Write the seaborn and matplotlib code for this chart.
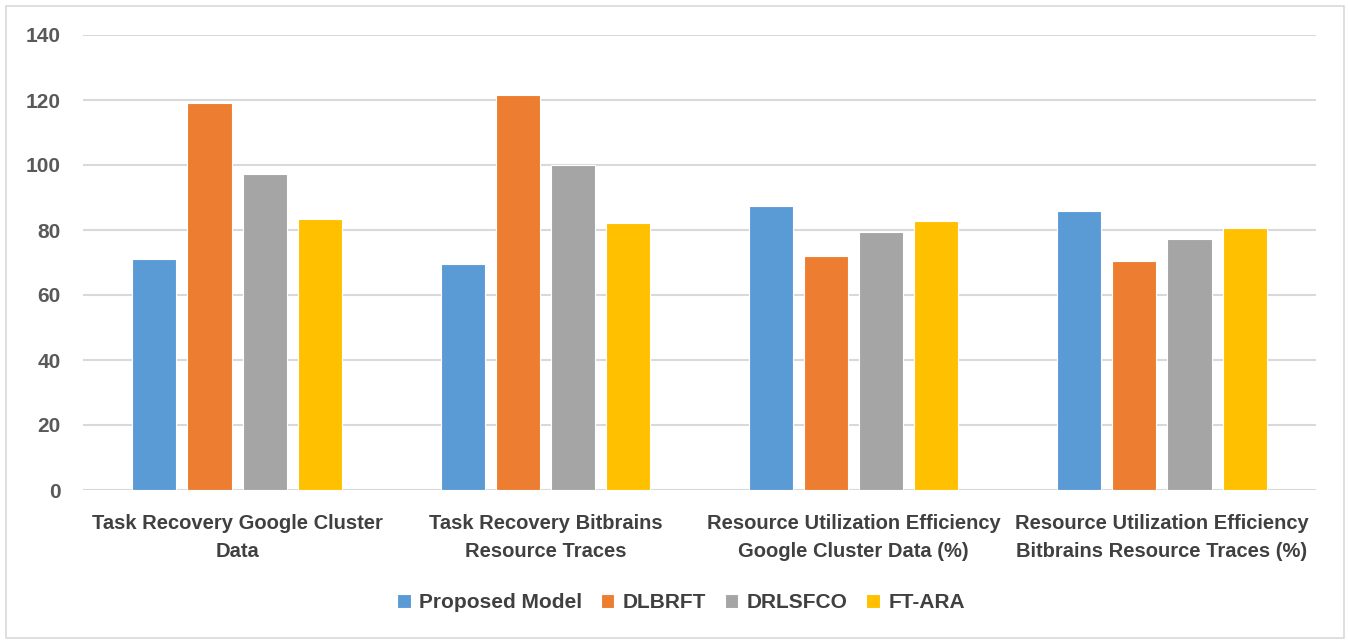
import matplotlib
matplotlib.use("Agg")
import matplotlib.pyplot as plt
import seaborn as sns
import pandas as pd
from matplotlib.patches import Rectangle

categories = [
    "Task Recovery Google Cluster\nData",
    "Task Recovery Bitbrains\nResource Traces",
    "Resource Utilization Efficiency\nGoogle Cluster Data (%)",
    "Resource Utilization Efficiency\nBitbrains Resource Traces (%)",
]
series_names = ["Proposed Model", "DLBRFT", "DRLSFCO", "FT-ARA"]
proposed = [71.1, 69.5, 87.4, 85.8]
dlbrft = [119.2, 121.5, 72.0, 70.5]
drlsfco = [97.1, 100.0, 79.5, 77.1]
ftara = [83.5, 82.2, 82.7, 80.6]
colors = ["#5B9BD5", "#ED7D31", "#A5A5A5", "#FFC000"]
yticks = [0, 20, 40, 60, 80, 100, 120, 140]

rows = []
for name, vals in zip(series_names, [proposed, dlbrft, drlsfco, ftara]):
    for c, v in zip(categories, vals):
        rows.append({"Category": c, "Series": name, "Value": v})
df = pd.DataFrame(rows)

sns.set_theme(style="white")
plt.rcParams["font.family"] = ["Liberation Sans", "DejaVu Sans"]

fig = plt.figure(figsize=(13.48, 6.4), dpi=100)
ax = fig.add_axes([83 / 1348, 150 / 640, (1316 - 83) / 1348, 455 / 640])

sns.barplot(data=df, x="Category", y="Value", hue="Series", order=categories,
            hue_order=series_names, palette=colors, width=0.716, gap=0.2,
            edgecolor="white", linewidth=0.8, saturation=1, ax=ax, zorder=3)

ax.set_ylim(0, 140)
ax.set_xlim(-0.5, 3.5)
ax.set_yticks(yticks)
ax.yaxis.grid(True, color="#D9D9D9", linewidth=1.5, zorder=0)
ax.set_axisbelow(True)
for s in ax.spines.values():
    s.set_visible(False)
ax.set_xlabel("")
ax.set_ylabel("")
ax.tick_params(axis="y", length=0, pad=16, labelsize=15, labelcolor="#595959")
ax.tick_params(axis="x", length=0, pad=17, labelsize=14.5, labelcolor="#404040")
for t in ax.get_yticklabels() + ax.get_xticklabels():
    t.set_fontweight("bold")
for t in ax.get_xticklabels():
    t.set_linespacing(1.6)

handles, labels = ax.get_legend_handles_labels()
ax.legend_.remove()
fig.legend(handles, labels, loc="center", bbox_to_anchor=(681 / 1348, 1 - 603 / 640),
           ncol=4, frameon=False, handlelength=0.65, handleheight=0.65,
           handletextpad=0.4, columnspacing=0.9,
           prop={"weight": "bold", "size": 15})
for t in fig.legends[0].get_texts():
    t.set_color("#404040")

fig.patches.append(Rectangle((6 / 1348, 2 / 640), 1338 / 1348, 632 / 640,
                             transform=fig.transFigure, fill=False,
                             edgecolor="#D9D9D9", linewidth=1.2))

fig.savefig("out.png", dpi=100)
